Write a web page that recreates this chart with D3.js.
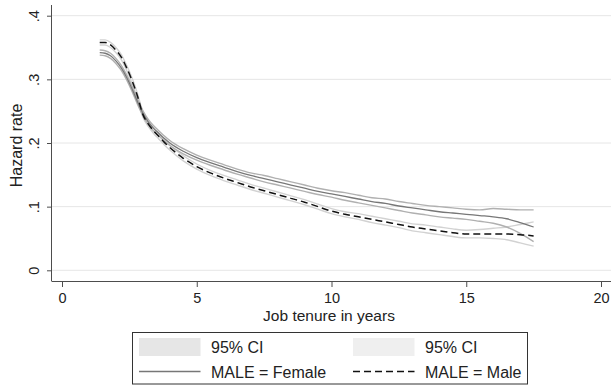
<!DOCTYPE html>
<html>
<head>
<meta charset="utf-8">
<script src="https://cdn.jsdelivr.net/npm/d3@7"></script>
<style>
  body { margin: 0; background: #fff; }
  svg { display: block; font-family: "Liberation Sans", Arial, sans-serif; }
</style>
</head>
<body>
<svg id="chart" width="612" height="386"></svg>
<script>
// tenure grid (years)
const tenure = [1.4, 1.6, 1.8, 2.0, 2.2, 2.4, 2.6, 2.8, 3.0, 3.2, 3.4, 3.6, 3.8, 4.0, 4.5, 5.0, 5.5, 6.0, 6.5, 7.0,
                7.5, 8.0, 8.5, 9.0, 9.5, 10.0, 10.5, 11.0, 11.5, 12.0, 12.5, 13.0, 13.5, 14.0, 14.5, 15.0, 15.5, 16.0, 16.5, 17.0, 17.5];

// female hazard and CI
const female   = [.342, .341, .337, .329, .318, .303, .285, .265, .247, .233, .223, .215, .207, .200, .187, .177, .169, .162, .155, .149,
                  .144, .139, .134, .129, .124, .120, .116, .112, .108, .105, .101, .098, .095, .092, .090, .088, .086, .084, .081, .075, .068];
const femaleLo = [.338, .337, .333, .325, .314, .299, .281, .261, .243, .229, .219, .211, .203, .196, .183, .173, .165, .158, .151, .145,
                  .139, .134, .129, .124, .119, .115, .110, .106, .102, .098, .094, .090, .087, .084, .082, .080, .077, .074, .068, .058, .045];
const femaleHi = [.346, .345, .341, .333, .322, .307, .289, .269, .251, .237, .227, .219, .211, .204, .191, .181, .173, .166, .159, .153,
                  .149, .144, .139, .134, .129, .125, .122, .118, .114, .112, .108, .105, .102, .100, .098, .096, .095, .097, .096, .095, .095];

// male hazard and CI
const male     = [.358, .358, .354, .346, .335, .318, .298, .274, .245, .230, .219, .210, .201, .193, .176, .163, .153, .145, .138, .131,
                  .125, .119, .113, .107, .100, .093, .088, .084, .080, .076, .072, .068, .065, .062, .059, .057, .057, .057, .057, .056, .054];
const maleLo   = [.354, .354, .350, .342, .331, .314, .294, .270, .241, .226, .215, .206, .197, .189, .172, .159, .149, .141, .134, .127,
                  .121, .115, .109, .103, .096, .089, .084, .080, .075, .071, .067, .062, .059, .056, .053, .051, .051, .050, .048, .043, .038];
const maleHi   = [.362, .362, .358, .350, .339, .322, .302, .278, .249, .234, .223, .214, .205, .197, .180, .167, .157, .149, .142, .135,
                  .129, .123, .117, .111, .104, .097, .092, .089, .085, .081, .077, .073, .071, .068, .065, .063, .064, .066, .068, .072, .076];

const xTicks = [0, 5, 10, 15, 20];
const yTicks = [0, .1, .2, .3, .4];
const yTickLabels = ["0", ".1", ".2", ".3", ".4"];

const svg = d3.select("#chart");

const plot = { left: 52, right: 611, top: 5, bottom: 281 };

const x = d3.scaleLinear().domain([0, 20]).range([62, 601]);
const y = d3.scaleLinear().domain([0, .4]).range([270.3, 15.7]);

// gridlines
svg.append("g")
    .selectAll("line")
    .data(yTicks)
    .enter().append("line")
    .attr("x1", plot.left)
    .attr("x2", plot.right)
    .attr("y1", d => y(d))
    .attr("y2", d => y(d))
    .attr("stroke", "#e6e6e6")
    .attr("stroke-width", 1);

// x axis
const xAxis = svg.append("g")
    .attr("transform", "translate(0," + plot.bottom + ")")
    .call(d3.axisBottom(x).tickValues(xTicks).tickSize(6).tickSizeOuter(0).tickPadding(6));
xAxis.select(".domain").attr("d", "M" + plot.left + ",0.5H" + plot.right);

// y axis
const yAxis = svg.append("g")
    .attr("transform", "translate(" + plot.left + ",0)")
    .call(d3.axisLeft(y).tickValues(yTicks).tickSize(5).tickSizeOuter(0).tickFormat((d, i) => yTickLabels[i]));
yAxis.select(".domain").attr("d", "M-0.5," + plot.top + "V" + (plot.bottom + 0.5));

svg.selectAll(".domain, .tick line").attr("stroke", "#4d4d4d");
svg.selectAll(".tick text").attr("fill", "#222").style("font-size", "14.5px").style("font-family", "Liberation Sans, Arial, sans-serif");

yAxis.selectAll(".tick text")
    .attr("x", 0)
    .attr("text-anchor", "middle")
    .attr("transform", "translate(-12.7,0) rotate(-90)")
    .attr("dy", 0);

// axis titles
svg.append("text")
    .attr("x", 329)
    .attr("y", 321)
    .attr("text-anchor", "middle")
    .style("font-size", "15.5px")
    .attr("fill", "#222")
    .text("Job tenure in years");

svg.append("text")
    .attr("transform", "translate(22,145.5) rotate(-90)")
    .attr("text-anchor", "middle")
    .style("font-size", "16px")
    .attr("fill", "#222")
    .text("Hazard rate");

// series
const mkLine = arr => d3.line()
    .x((d, i) => x(tenure[i]))
    .y((d, i) => y(arr[i]))
    .curve(d3.curveMonotoneX)(arr);

const series = [
    { data: maleLo, color: "#d2d2d2", width: 1.4, dash: null },
    { data: maleHi, color: "#d2d2d2", width: 1.4, dash: null },
    { data: femaleLo, color: "#b0b0b0", width: 1.4, dash: null },
    { data: femaleHi, color: "#b0b0b0", width: 1.4, dash: null },
    { data: female, color: "#777", width: 1.3, dash: null },
    { data: male, color: "#111", width: 1.5, dash: "7,4" }
];

svg.append("g")
    .selectAll("path")
    .data(series)
    .enter().append("path")
    .attr("d", d => mkLine(d.data))
    .attr("fill", "none")
    .attr("stroke", d => d.color)
    .attr("stroke-width", d => d.width)
    .attr("stroke-dasharray", d => d.dash);

// legend
const legend = svg.append("g");
legend.append("rect")
    .attr("x", 132.5).attr("y", 332.5)
    .attr("width", 395).attr("height", 51.5)
    .attr("fill", "#fff")
    .attr("stroke", "#333")
    .attr("stroke-width", 1);

const legendItems = [
    { label: "95% CI", kind: "box", fill: "#e6e6e6", lx: 139, ly: 347 },
    { label: "95% CI", kind: "box", fill: "#efefef", lx: 353, ly: 347 },
    { label: "MALE = Female", kind: "line", color: "#777", dash: null, lx: 139, ly: 371.5 },
    { label: "MALE = Male", kind: "line", color: "#111", dash: "7,4", lx: 353, ly: 371.5 }
];

legendItems.forEach(d => {
    if (d.kind === "box") {
        legend.append("rect")
            .attr("x", d.lx).attr("y", d.ly - 9)
            .attr("width", 61.5).attr("height", 18)
            .attr("fill", d.fill);
    } else {
        legend.append("line")
            .attr("x1", d.lx).attr("x2", d.lx + 61.5)
            .attr("y1", d.ly).attr("y2", d.ly)
            .attr("stroke", d.color)
            .attr("stroke-width", d.dash ? 1.5 : 1.3)
            .attr("stroke-dasharray", d.dash);
    }
    legend.append("text")
        .attr("x", d.lx + 72)
        .attr("y", d.ly + 6)
        .style("font-size", "16px")
        .attr("fill", "#222")
        .text(d.label);
});
</script>
</body>
</html>
